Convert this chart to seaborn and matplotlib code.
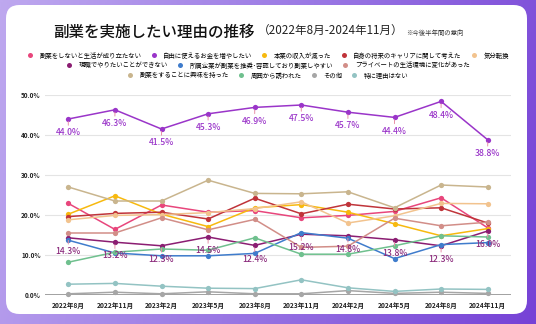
import numpy as np
import pandas as pd
import matplotlib
matplotlib.use("Agg")
import matplotlib.pyplot as plt
import seaborn as sns
from matplotlib.patches import FancyBboxPatch
from matplotlib.lines import Line2D
from matplotlib.colors import LinearSegmentedColormap

periods = ["2022年8月", "2022年11月", "2023年2月", "2023年5月", "2023年8月",
           "2023年11月", "2024年2月", "2024年5月", "2024年8月", "2024年11月"]

reasons = ["副業をしないと生活が成り立たない", "自由に使えるお金を増やしたい", "本業の収入が減った",
           "自身の将来のキャリアに関して考えた", "気分転換", "現職でやりたいことができない",
           "所属企業が副業を推奨･容認しており副業しやすい", "プライベートの生活環境に変化があった",
           "副業をすることに興味を持った", "周囲から誘われた", "その他", "特に理由はない"]

living = [22.9, 16.4, 22.5, 20.7, 21.1, 19.3, 19.9, 20.9, 24.3, 16.8]
free_money = [44.0, 46.3, 41.5, 45.3, 46.9, 47.5, 45.7, 44.4, 48.4, 38.8]
income_down = [20.2, 24.8, 20.2, 17.1, 21.8, 22.6, 20.7, 17.8, 14.8, 16.6]
career = [19.6, 20.4, 20.7, 19.0, 24.2, 20.3, 22.7, 21.5, 21.8, 18.0]
refresh = [18.8, 19.9, 20.1, 20.6, 21.6, 23.3, 18.0, 19.8, 22.9, 22.8]
cannot_do = [14.3, 13.2, 12.3, 14.5, 12.4, 15.2, 14.8, 13.8, 12.3, 16.0]
company_ok = [13.7, 10.5, 9.8, 9.8, 10.4, 15.6, 14.2, 9.1, 12.6, 13.1]
private_change = [15.5, 15.5, 19.3, 16.3, 18.9, 11.9, 12.2, 19.2, 17.3, 18.2]
interest = [27.0, 23.5, 23.5, 28.7, 25.4, 25.3, 25.8, 21.8, 27.5, 27.0]
invited = [8.2, 10.7, 11.5, 11.2, 14.3, 10.2, 10.2, 12.3, 14.8, 14.5]
other = [0.3, 0.7, 0.3, 0.8, 0.3, 0.3, 1.1, 0.4, 0.7, 0.4]
no_reason = [2.7, 2.9, 2.2, 1.7, 1.6, 3.8, 1.8, 0.9, 1.5, 1.4]

series = [living, free_money, income_down, career, refresh, cannot_do,
          company_ok, private_change, interest, invited, other, no_reason]

colors = ["#e8467c", "#9a35c9", "#f7b90f", "#c0343a", "#f2c38e", "#8b1d72",
          "#3f7ccc", "#d28e88", "#c9b58e", "#6fc08e", "#a6a6a6", "#93c3c3"]

yticks = [0, 10, 20, 30, 40, 50]

df = pd.DataFrame([
    {"period": p, "reason": r, "value": v}
    for r, vals in zip(reasons, series) for p, v in zip(periods, vals)
])

plt.rcParams["font.family"] = ["Noto Sans CJK JP", "DejaVu Sans"]

W, H = 536, 324
fig = plt.figure(figsize=(W / 100, H / 100), dpi=100)

# background gradient
bg = fig.add_axes([0, 0, 1, 1], zorder=-10)
cmap = LinearSegmentedColormap.from_list("bg", ["#bea8ef", "#9a78e4", "#7642d6"])
gx = np.linspace(0, 1, 300)
gy = np.linspace(0, 1, 200)
G = 0.85 * gx[None, :] + 0.15 * gy[:, None]
bg.imshow(G, cmap=cmap, aspect="auto", extent=[0, 1, 0, 1], origin="upper")
bg.set_axis_off()
panel = FancyBboxPatch((6 / W, (H - 314) / H), (527 - 6) / W, (314 - 5) / H,
                       boxstyle="round,pad=0,rounding_size=0.025",
                       transform=fig.transFigure, facecolor="white",
                       edgecolor="none", mutation_aspect=W / H)
bg.add_patch(panel)

ax = fig.add_axes([45 / W, (H - 295) / H, (511 - 45) / W, 200 / H])
ax.set_facecolor("none")

sns.lineplot(data=df, x="period", y="value", hue="reason", hue_order=reasons,
             palette=colors, marker="o", markersize=3.8, markeredgewidth=0,
             linewidth=1.1, legend=False, sort=False, ax=ax, clip_on=False)

ax.set_ylim(0, 50)
ax.set_xlim(-0.5, len(periods) - 0.5)
ax.set_yticks(yticks)
ax.set_yticklabels([f"{t:.1f}%" for t in yticks], fontsize=4.6, fontweight="bold", color="#222222")
ax.set_xticks(range(len(periods)))
ax.set_xticklabels(periods, fontsize=4.8, fontweight="bold", color="#222222")
ax.tick_params(length=0, pad=5)
ax.tick_params(axis="y", pad=3)
ax.set_xlabel("")
ax.set_ylabel("")
for s in ax.spines.values():
    s.set_visible(False)
for t in yticks[1:]:
    ax.axhline(t, color="#e4e4e4", lw=0.8, zorder=0)
ax.axhline(0, color="#9a9a9a", lw=1.3, zorder=0.5)

# data labels
def label_series(vals, color):
    for i, v in enumerate(vals):
        ax.annotate("", xy=(i, v), xytext=(0, -4.5), textcoords="offset points",
                    arrowprops=dict(arrowstyle="-", color="#e890a8", lw=0.7,
                                    shrinkA=0, shrinkB=1.8), zorder=6)
        ax.annotate(f"{v:.1f}%", xy=(i, v), xytext=(0, -9.8), textcoords="offset points",
                    ha="center", va="center", fontsize=6.2, fontweight="medium",
                    color=color, zorder=7)

label_series(free_money, "#9a35c9")
label_series(cannot_do, "#8b2a7c")

# title
t1 = fig.text(53 / W, 1 - 32 / H, "副業を実施したい理由の推移", fontsize=11.2,
              fontweight="medium", color="#111111", ha="left", va="center")
t2 = fig.text(0, 0, "（2022年8月-2024年11月）", fontsize=8.4, color="#222222")
t3 = fig.text(0, 0, "※今後半年間の意向", fontsize=4.6, color="#333333")
fig.canvas.draw()
r = fig.canvas.get_renderer()
bb1 = t1.get_window_extent(r)
t2.set_position((bb1.x1 / W + 3 / W, 1 - 34.5 / H))
t2.set_va("baseline")
fig.canvas.draw()
bb2 = t2.get_window_extent(r)
t3.set_position((bb2.x1 / W + 3 / W, 1 - 35 / H))
t3.set_va("baseline")

# legend rows
rows = [[0, 1, 2, 3, 4], [5, 6, 7], [8, 9, 10, 11]]
row_y = [1 - 55.7 / H, 1 - 65.5 / H, 1 - 75.5 / H]
for idxs, yy in zip(rows, row_y):
    handles = [Line2D([], [], marker="o", linestyle="none", markersize=3.6,
                      markerfacecolor=colors[i], markeredgewidth=0) for i in idxs]
    fig.legend(handles, [reasons[i] for i in idxs], loc="center",
               bbox_to_anchor=(0.5, yy), ncol=len(idxs), frameon=False,
               fontsize=4.6, handletextpad=1.1, columnspacing=1.5,
               handlelength=0.8, borderpad=0, borderaxespad=0)

fig.savefig("out.png", dpi=100)
